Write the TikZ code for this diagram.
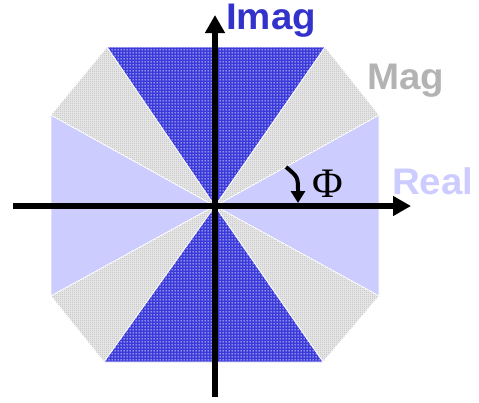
\documentclass[tikz,border=0pt]{standalone}
\usepackage{fontspec}
\setmainfont{Liberation Sans}
\newfontfamily\serifphi{Liberation Serif}
\usetikzlibrary{arrows.meta,patterns.meta}
\definecolor{imagblue}{HTML}{3333CC}
\definecolor{sectblue}{HTML}{3A3ADA}
\definecolor{realblue}{HTML}{CCCCFF}
\definecolor{maggray}{HTML}{B3B3B3}
\definecolor{stipbase}{HTML}{E4E4E4}
\definecolor{stipdot}{HTML}{A8A8A8}
\tikzdeclarepattern{name=holes, type=uncolored,
  bounding box={(0pt,0pt) and (3pt,3pt)}, tile size={(3pt,3pt)},
  code={\fill (0.8pt,0.8pt) rectangle (2.1pt,2.1pt);}}
\tikzdeclarepattern{name=stipple, type=uncolored,
  bounding box={(0pt,0pt) and (2pt,2pt)}, tile size={(2pt,2pt)},
  code={\fill (0pt,0pt) rectangle (1pt,1pt);}}
\tikzset{
  bluesect/.style={fill=sectblue, draw=white, line width=0.8pt},
  holesover/.style={pattern={holes}, pattern color=white},
  graysect/.style={fill=stipbase, draw=white, line width=0.8pt},
  stipover/.style={pattern={stipple}, pattern color=stipdot},
  realsect/.style={fill=realblue, draw=white, line width=0.8pt},
  axis/.style={line width=5.5pt, -{Triangle[length=18pt,width=19pt]}},
  biglabel/.style={font=\fontsize{37}{40}\selectfont\bfseries, inner sep=0pt, anchor=base west, xscale=1.04},
}
\begin{document}
\begin{tikzpicture}[x=1pt,y=-1pt]
\useasboundingbox (0,0) rectangle (479,402);
\coordinate (O) at (215,206);
\coordinate (TL) at (107,47);
\coordinate (TR) at (325,47);
\coordinate (RT) at (379,115);
\coordinate (RB) at (379,296);
\coordinate (BR) at (323,362);
\coordinate (BL) at (104,362);
\coordinate (LB) at (51,296);
\coordinate (LT) at (51,115);
% light blue (real) sectors
\path[realsect] (O) -- (RT) -- (RB) -- cycle;
\path[realsect] (O) -- (LB) -- (LT) -- cycle;
% gray (mag) sectors
\foreach \a/\b in {TR/RT, RB/BR, BL/LB, LT/TL}{
  \path[graysect] (O) -- (\a) -- (\b) -- cycle;
  \path[stipover] (O) -- (\a) -- (\b) -- cycle;
}
% blue (imag) sectors
\foreach \a/\b in {TL/TR, BR/BL}{
  \path[bluesect] (O) -- (\a) -- (\b) -- cycle;
  \path[holesover] (O) -- (\a) -- (\b) -- cycle;
}
% axes
\coordinate (xs) at (13,206);
\coordinate (xe) at (411,206);
\coordinate (ys) at (215,397);
\coordinate (ye) at (215,15);
\draw[axis] (xs) -- (xe);
\draw[axis] (ys) -- (ye);
% angle arrow
\coordinate (ps) at (286,167);
\coordinate (pe) at (298,203);
\draw[line width=4pt, -{Triangle[length=12pt,width=14pt]}] (ps) .. controls (298,177) .. (pe);
% labels
\node[biglabel, text=imagblue] (imag) at (226,29) {Imag};
\node[biglabel, text=maggray] (mag) at (367,89) {Mag};
\node[biglabel, text=realblue] (real) at (392,194) {Real};
\node[inner sep=0pt, anchor=base west, font=\fontsize{42}{44}\selectfont\serifphi] (phi) at (312,197) {Φ};
\end{tikzpicture}
\end{document}
